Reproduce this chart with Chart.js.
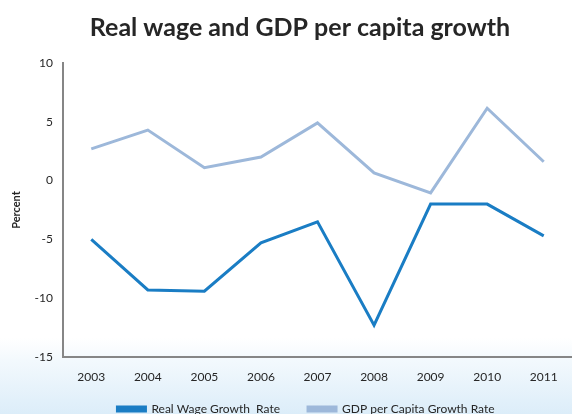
<!DOCTYPE html>
<html>
<head>
<meta charset="utf-8">
<script src="https://cdn.jsdelivr.net/npm/chart.js@4.4.0/dist/chart.umd.min.js"></script>
<style>
  html, body { margin: 0; padding: 0; overflow: hidden; width: 572px; height: 414px;
    background: linear-gradient(to bottom, #ffffff 0px, #ffffff 338px, #f3f9fd 360px, #dcedf9 414px); }
  #wrap { width: 572px; height: 443px; position: absolute; left: 0; top: 0; }
</style>
</head>
<body>
<div id="wrap"><canvas id="c" width="572" height="443"></canvas></div>
<script>
const years = ['2003','2004','2005','2006','2007','2008','2009','2010','2011'];
const realWageGrowth = [-5.0, -9.3, -9.4, -5.3, -3.5, -12.3, -2.0, -2.0, -4.7];
const gdpPerCapitaGrowth = [2.7, 4.3, 1.1, 2.0, 4.9, 0.65, -1.05, 6.15, 1.6];
const yTickValues = [10, 5, 0, -5, -10, -15];

const FONT = 'Lato, "Open Sans", "Liberation Sans", sans-serif';
const TXT = '#262626';
const AXIS = '#868686';

const shiftBoxes = {
  id: 'shiftBoxes',
  afterLayout(chart) {
    if (chart.titleBlock) { chart.titleBlock.left += 14; chart.titleBlock.right += 14; }
    if (chart.legend) {
      chart.legend.left += 20; chart.legend.right += 20;
      chart.legend.top -= 18; chart.legend.bottom -= 18;
    }
  }
};

new Chart(document.getElementById('c'), {
  type: 'line',
  data: {
    labels: years,
    datasets: [
      { label: 'Real Wage Growth  Rate', data: realWageGrowth, borderColor: '#1a7dc4', backgroundColor: '#1a7dc4',
        borderWidth: 3, pointRadius: 0, tension: 0, fill: false },
      { label: 'GDP per Capita Growth Rate', data: gdpPerCapitaGrowth, borderColor: '#9db8da', backgroundColor: '#9db8da',
        borderWidth: 3, pointRadius: 0, tension: 0, fill: false }
    ]
  },
  plugins: [shiftBoxes],
  options: {
    responsive: false,
    animation: false,
    layout: { padding: { left: 0, right: 0, top: 0, bottom: 0 } },
    plugins: {
      title: { display: true, text: 'Real wage and GDP per capita growth', color: '#262626',
        font: { family: FONT, size: 25, weight: 'bold' }, padding: { top: 13, bottom: 20 } },
      legend: { position: 'bottom',
        labels: { color: TXT, font: { family: FONT, size: 12 }, boxWidth: 28, boxHeight: 4, padding: 28 } },
      tooltip: { enabled: false }
    },
    scales: {
      x: {
        offset: true,
        grid: { display: false, drawTicks: false },
        border: { color: AXIS, width: 2 },
        ticks: { color: TXT, font: { family: FONT, size: 12 }, padding: 13, maxRotation: 0 },
        afterFit: s => { s.height = 36; }
      },
      y: {
        min: -15, max: 10,
        afterBuildTicks: s => { s.ticks = yTickValues.map(v => ({ value: v })); },
        grid: { display: false, drawTicks: false },
        border: { color: AXIS, width: 2 },
        ticks: { color: TXT, font: { family: FONT, size: 12 }, padding: 10 },
        title: { display: true, text: 'Percent', color: TXT, font: { family: FONT, size: 11, weight: 'bold' }, padding: { top: 10, bottom: 0 } },
        afterFit: s => { s.width = 63; }
      }
    }
  }
});
</script>
</body>
</html>
